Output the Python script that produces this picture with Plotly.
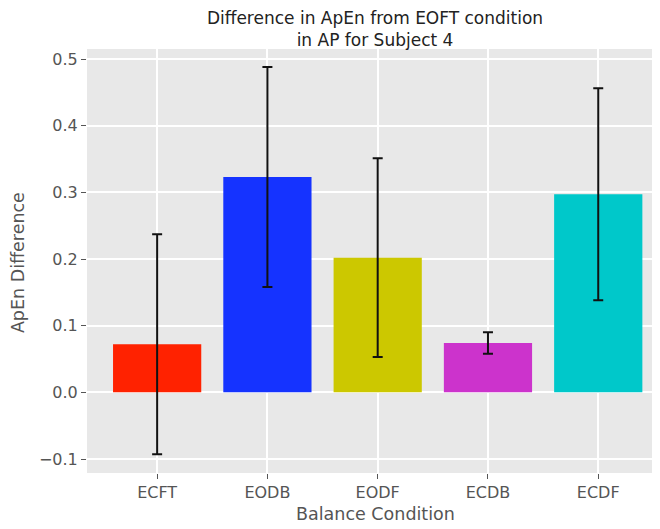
import plotly.graph_objects as go

categories = ["ECFT", "EODB", "EODF", "ECDB", "ECDF"]
values = [0.072, 0.323, 0.202, 0.074, 0.297]
errors = [0.165, 0.165, 0.149, 0.016, 0.159]
colors = ["#FF2200", "#1533FF", "#CCC800", "#CC33CC", "#00C8CA"]

# the page body adds an 8px margin; the figure is sized to fit the window
W, H = 652, 521

fig = go.Figure()
fig.add_trace(go.Bar(
    x=list(range(len(categories))),
    y=values,
    width=0.8,
    marker=dict(color=colors, line=dict(width=0)),
    error_y=dict(type="data", array=errors, visible=True,
                 color="#111111", thickness=2, width=5),
))

fig.update_layout(
    width=W, height=H,
    margin=dict(l=79, r=0, t=41, b=56, autoexpand=False),
    paper_bgcolor="white",
    plot_bgcolor="#E8E8E8",
    font=dict(family="DejaVu Sans", color="#555555"),
    title=dict(text="Difference in ApEn from EOFT condition<br>in AP for Subject 4",
               x=367 / W, xanchor="center", yref="container",
               y=1 - 16 / H, yanchor="middle",
               font=dict(size=17, color="#222222")),
    showlegend=False,
    annotations=[
        dict(text="Balance Condition", xref="paper", yref="paper",
             x=0.503, y=-(514 - 472.7) / 424, xanchor="center", yanchor="middle",
             showarrow=False, font=dict(size=17.5, color="#555555")),
        dict(text="ApEn Difference", xref="paper", yref="paper",
             x=(18 - 87) / 573, y=0.495, xanchor="center", yanchor="middle",
             textangle=-90, showarrow=False, font=dict(size=17.5, color="#555555")),
    ],
)
fig.update_xaxes(
    range=[-0.636, 4.56], automargin=False,
    tickmode="array", tickvals=list(range(len(categories))), ticktext=categories,
    showgrid=True, gridcolor="white", gridwidth=1.5,
    ticks="outside", ticklen=5, tickcolor="#555555", tickwidth=1,
    tickfont=dict(size=16, color="#555555"),
    zeroline=False, showline=False,
)
fig.update_yaxes(
    range=[-0.121, 0.515], automargin=False,
    tickvals=[-0.1, 0.0, 0.1, 0.2, 0.3, 0.4, 0.5],
    tickformat=".1f",
    showgrid=True, gridcolor="white", gridwidth=1.5,
    ticks="outside", ticklen=5, tickcolor="#555555", tickwidth=1,
    tickfont=dict(size=16, color="#555555"),
    zeroline=False, showline=False,
)

fig.write_html("out.html")
